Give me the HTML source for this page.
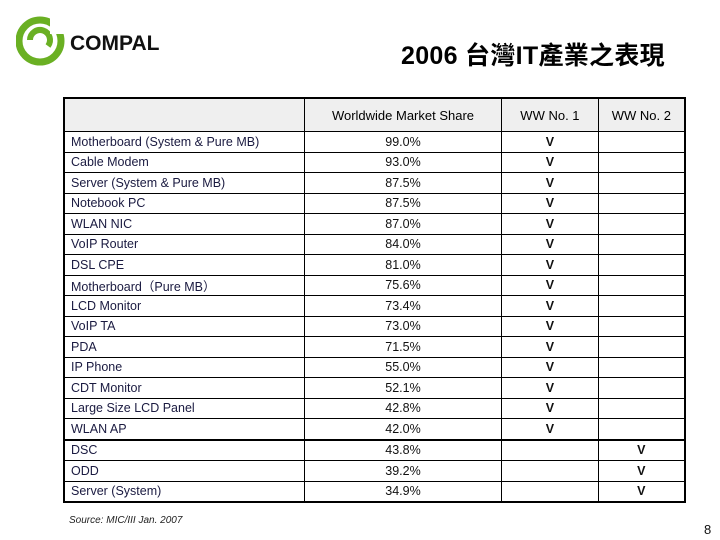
<!DOCTYPE html>
<html><head><meta charset="utf-8"><style>
body{margin:0;width:720px;height:540px;background:#fff;position:relative;overflow:hidden;font-family:"Liberation Sans","Noto Sans CJK TC",sans-serif}
#title{position:absolute;left:401px;top:36px;font-size:25px;font-weight:bold;color:#000;letter-spacing:0.3px}
#logo{position:absolute;left:16px;top:16px}
#brand{position:absolute;left:70px;top:32px;font-size:21px;font-weight:bold;color:#111;letter-spacing:0px}
table{position:absolute;left:63px;top:97px;width:623px;border-collapse:collapse;border:2px solid #000;font-size:12.5px}
td{border:1px solid #000;height:19.5px;padding:0 6px;color:#1a1a40;white-space:nowrap}
td.c{text-align:center;color:#111}
td.v{text-align:center;font-weight:bold;color:#111}
tr.h td{background:#efefef;height:32px;text-align:center;color:#000;font-size:13px}
tr.sep td{border-top:2px solid #000}
#src{position:absolute;left:69px;top:515px;font-size:10px;font-style:italic;color:#222}
#pg{position:absolute;left:704px;top:522px;font-size:13px;color:#111}
</style></head><body>
<svg id="logo" width="52" height="50" viewBox="0 0 52 50">
<circle cx="24" cy="25" r="21" fill="none" stroke="#6ab023" stroke-width="7"/>
<path d="M14 24 a10 10 0 1 1 18 6" fill="none" stroke="#6ab023" stroke-width="6"/>
<rect x="34" y="2" width="18" height="16" fill="#fff"/>
</svg>
<div id="brand">COMPAL</div>
<div id="title">2006 台灣IT產業之表現</div>
<table>
<colgroup><col style="width:241px"><col style="width:198px"><col style="width:97px"><col style="width:87px"></colgroup>
<tr class="h"><td></td><td>Worldwide Market Share</td><td>WW No. 1</td><td>WW No. 2</td></tr>
<tr><td>Motherboard (System &amp; Pure MB)</td><td class="c">99.0%</td><td class="v">V</td><td></td></tr>
<tr><td>Cable Modem</td><td class="c">93.0%</td><td class="v">V</td><td></td></tr>
<tr><td>Server (System &amp; Pure MB)</td><td class="c">87.5%</td><td class="v">V</td><td></td></tr>
<tr><td>Notebook PC</td><td class="c">87.5%</td><td class="v">V</td><td></td></tr>
<tr><td>WLAN NIC</td><td class="c">87.0%</td><td class="v">V</td><td></td></tr>
<tr><td>VoIP Router</td><td class="c">84.0%</td><td class="v">V</td><td></td></tr>
<tr><td>DSL CPE</td><td class="c">81.0%</td><td class="v">V</td><td></td></tr>
<tr><td>Motherboard（Pure MB）</td><td class="c">75.6%</td><td class="v">V</td><td></td></tr>
<tr><td>LCD Monitor</td><td class="c">73.4%</td><td class="v">V</td><td></td></tr>
<tr><td>VoIP TA</td><td class="c">73.0%</td><td class="v">V</td><td></td></tr>
<tr><td>PDA</td><td class="c">71.5%</td><td class="v">V</td><td></td></tr>
<tr><td>IP Phone</td><td class="c">55.0%</td><td class="v">V</td><td></td></tr>
<tr><td>CDT Monitor</td><td class="c">52.1%</td><td class="v">V</td><td></td></tr>
<tr><td>Large Size LCD Panel</td><td class="c">42.8%</td><td class="v">V</td><td></td></tr>
<tr><td>WLAN AP</td><td class="c">42.0%</td><td class="v">V</td><td></td></tr>
<tr class="sep"><td>DSC</td><td class="c">43.8%</td><td></td><td class="v">V</td></tr>
<tr><td>ODD</td><td class="c">39.2%</td><td></td><td class="v">V</td></tr>
<tr><td>Server (System)</td><td class="c">34.9%</td><td></td><td class="v">V</td></tr>
</table>
<div id="src">Source: MIC/III Jan. 2007</div>
<div id="pg">8</div>
</body></html>
